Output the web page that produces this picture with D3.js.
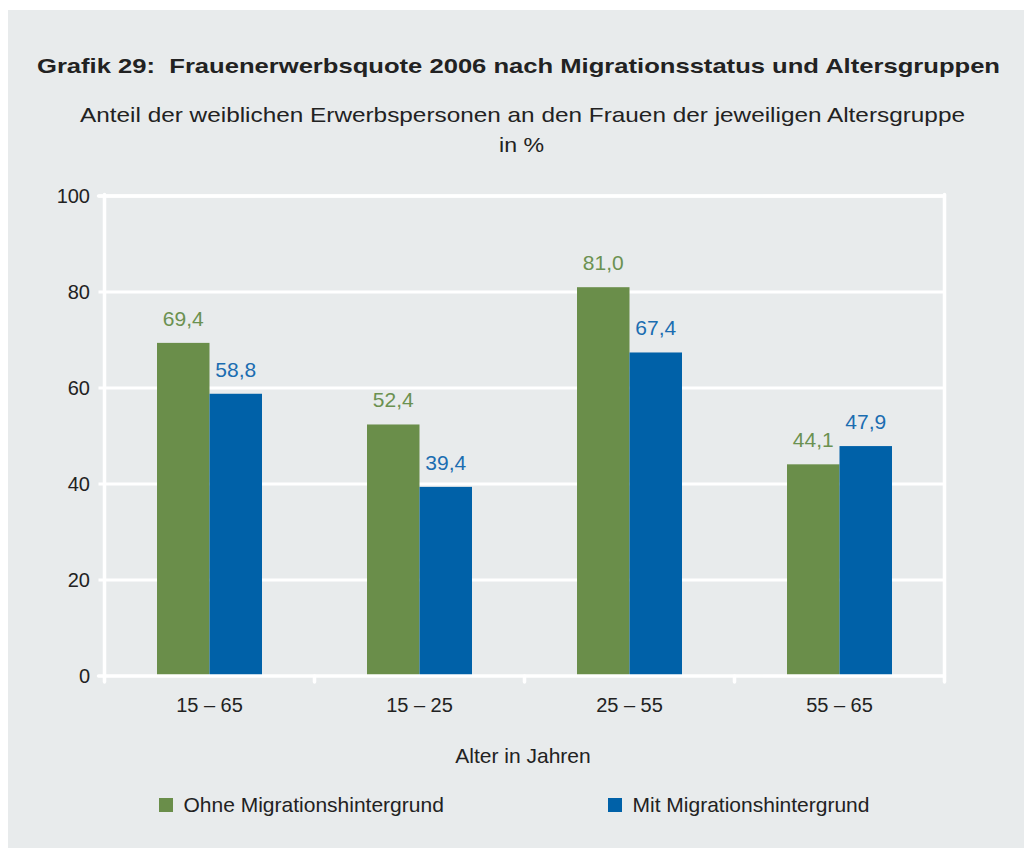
<!DOCTYPE html>
<html>
<head>
<meta charset="utf-8">
<script src="https://cdn.jsdelivr.net/npm/d3@7"></script>
<style>
  html, body { margin: 0; padding: 0; background: #ffffff; }
  svg { display: block; font-family: "Liberation Sans", Arial, sans-serif; }
</style>
</head>
<body>
<svg id="chart" width="1024" height="848"></svg>
<script>
const categories = ["15 – 65", "15 – 25", "25 – 55", "55 – 65"];
const seriesNames = ["Ohne Migrationshintergrund", "Mit Migrationshintergrund"];
const ohneValues = [69.4, 52.4, 81.0, 44.1];
const mitValues = [58.8, 39.4, 67.4, 47.9];
const yTicks = [0, 20, 40, 60, 80, 100];

const title = "Grafik 29:  Frauenerwerbsquote 2006 nach Migrationsstatus und Altersgruppen";
const subtitle1 = "Anteil der weiblichen Erwerbspersonen an den Frauen der jeweiligen Altersgruppe";
const subtitle2 = "in %";
const xTitle = "Alter in Jahren";

const colors = ["#6a8e4a", "#0061a8"];
const labelColors = ["#6b9151", "#1b6db1"];
const bg = "#e8ebec";
const ink = "#222";

const svg = d3.select("#chart");
svg.append("rect").attr("x", 8).attr("y", 10).attr("width", 1016).attr("height", 838).attr("fill", bg);

const pLeft = 104.5, pRight = 944.5, pTop = 196, pBottom = 676;
const x = d3.scaleBand().domain(categories).range([pLeft, pRight]).paddingInner(0).paddingOuter(0);
const x1 = d3.scaleBand().domain([0, 1]).range([x.bandwidth() * 0.25, x.bandwidth() * 0.75]);
const y = d3.scaleLinear().domain([0, 100]).range([pBottom, pTop]);

// gridlines
svg.append("g").selectAll("line").data(yTicks.filter(d => d > 0)).join("line")
  .attr("x1", pLeft - 6).attr("x2", pRight)
  .attr("y1", d => y(d)).attr("y2", d => y(d))
  .attr("stroke", "#fff").attr("stroke-width", 3);

// y axis labels
svg.append("g").selectAll("text").data(yTicks).join("text")
  .attr("x", 90).attr("y", d => y(d)).attr("dy", "0.35em")
  .attr("text-anchor", "end").attr("font-size", 20).attr("fill", ink)
  .text(d => d);

// bars
const data = categories.map((c, i) => ({ cat: c, vals: [ohneValues[i], mitValues[i]] }));
const groups = svg.append("g").selectAll("g").data(data).join("g")
  .attr("transform", d => `translate(${x(d.cat)},0)`);
groups.selectAll("rect").data(d => d.vals.map((v, s) => ({ v, s }))).join("rect")
  .attr("x", d => x1(d.s)).attr("width", x1.bandwidth())
  .attr("y", d => y(d.v)).attr("height", d => y(0) - y(d.v))
  .attr("fill", d => colors[d.s]);
groups.selectAll("text").data(d => d.vals.map((v, s) => ({ v, s }))).join("text")
  .attr("x", d => x1(d.s) + x1.bandwidth() / 2)
  .attr("y", d => y(d.v) - 17)
  .attr("text-anchor", "middle").attr("font-size", 21)
  .attr("fill", d => labelColors[d.s])
  .text(d => d.v.toFixed(1).replace(".", ","));

// frame: left axis, right border, bottom axis
const frame = svg.append("g").attr("stroke", "#fff").attr("stroke-linecap", "round");
frame.append("line").attr("x1", pLeft).attr("x2", pLeft).attr("y1", pTop - 1.5).attr("y2", pBottom + 6).attr("stroke-width", 3.5);
frame.append("line").attr("x1", pRight).attr("x2", pRight).attr("y1", pTop - 1.5).attr("y2", pBottom + 6).attr("stroke-width", 3.5);
frame.append("line").attr("x1", pLeft - 6).attr("x2", pRight).attr("y1", pBottom).attr("y2", pBottom).attr("stroke-width", 3.5);
frame.append("line").attr("x1", pLeft - 6).attr("x2", pRight).attr("y1", pTop).attr("y2", pTop).attr("stroke-width", 3.5);
frame.selectAll("line.tick").data(categories.slice(1)).join("line").attr("class", "tick")
  .attr("x1", d => x(d)).attr("x2", d => x(d))
  .attr("y1", pBottom).attr("y2", pBottom + 6).attr("stroke-width", 3.5);

// x labels
svg.append("g").selectAll("text").data(categories).join("text")
  .attr("x", d => x(d) + x.bandwidth() / 2).attr("y", 712)
  .attr("text-anchor", "middle").attr("font-size", 20).attr("fill", ink)
  .text(d => d);

svg.append("text").attr("x", 523).attr("y", 763).attr("text-anchor", "middle")
  .attr("font-size", 21).attr("fill", ink).text(xTitle);

// titles
svg.append("text").attr("x", 37).attr("y", 73).attr("font-size", 21).attr("font-weight", "bold")
  .attr("xml:space", "preserve").attr("textLength", 963).attr("lengthAdjust", "spacingAndGlyphs")
  .attr("fill", ink).text(title);
svg.append("text").attr("x", 80).attr("y", 122)
  .attr("textLength", 885).attr("lengthAdjust", "spacingAndGlyphs")
  .attr("font-size", 21).attr("fill", ink).text(subtitle1);
svg.append("text").attr("x", 499).attr("y", 152)
  .attr("textLength", 45).attr("lengthAdjust", "spacingAndGlyphs")
  .attr("font-size", 21).attr("fill", ink).text(subtitle2);

// legend
const legendX = [159, 608];
const lg = svg.append("g").selectAll("g").data(seriesNames).join("g")
  .attr("transform", (d, i) => `translate(${legendX[i]},798)`);
lg.append("rect").attr("width", 14).attr("height", 14).attr("fill", (d, i) => colors[i]);
lg.append("text").attr("x", 24.5).attr("y", 7).attr("dy", "0.35em").attr("font-size", 21)
  .attr("fill", ink).text(d => d);
</script>
</body>
</html>
